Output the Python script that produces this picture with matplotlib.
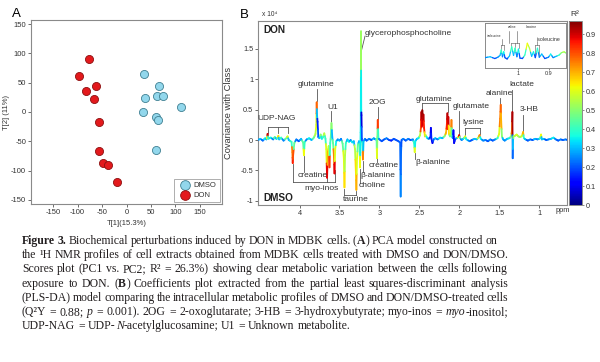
import re
import numpy as np
import matplotlib as mpl
import matplotlib.pyplot as plt
from matplotlib.collections import LineCollection

plt.rcParams['font.family'] = ['Liberation Sans', 'DejaVu Sans']
plt.rcParams['axes.unicode_minus'] = False

# === Panel A: PCA scores ===
dmso_t1 = [35, 67, 63, 74, 37, 33, 112, 60, 65, 61]
dmso_t2 = [65, 44, 28, 27, 24, 0, 8, -9, -14, -65]
don_t1 = [-76, -97, -62, -83, -67, -56, -56, -48, -37, -19]
don_t2 = [91, 62, 44, 35, 22, -17, -66, -87, -90, -120]

# === Panel B: covariance spectrum (ppm, covariance x1e4, R2) ===
spec_ppm = [4.52, 4.49, 4.46, 4.43, 4.415, 4.405, 4.40, 4.39, 4.36, 4.33,
            4.31, 4.29, 4.275, 4.265, 4.255, 4.23, 4.20, 4.165, 4.15, 4.135,
            4.10, 4.09, 4.085, 4.08, 4.065, 4.04, 4.01, 3.98, 3.955, 3.945,
            3.935, 3.91, 3.88, 3.85, 3.82, 3.80, 3.79, 3.785, 3.78, 3.774,
            3.765, 3.75, 3.735, 3.72, 3.705, 3.69, 3.675, 3.665, 3.655, 3.645,
            3.635, 3.625, 3.615, 3.607, 3.60, 3.59, 3.58, 3.57, 3.562, 3.553,
            3.54, 3.52, 3.50, 3.48, 3.46, 3.445, 3.437, 3.43, 3.42, 3.40,
            3.38, 3.36, 3.34, 3.32, 3.305, 3.295, 3.288, 3.28, 3.27, 3.255,
            3.248, 3.242, 3.237, 3.233, 3.230, 3.227, 3.224, 3.219, 3.212, 3.206,
            3.198, 3.18, 3.16, 3.13, 3.10, 3.07, 3.05, 3.035, 3.03, 3.025,
            3.02, 3.012, 3.00, 2.97, 2.94, 2.91, 2.88, 2.85, 2.82, 2.79,
            2.76, 2.74, 2.733, 2.728, 2.722, 2.70, 2.67, 2.64, 2.61, 2.58,
            2.565, 2.557, 2.55, 2.53, 2.51, 2.49, 2.48, 2.474, 2.468, 2.462,
            2.455, 2.448, 2.44, 2.43, 2.42, 2.40, 2.38, 2.36, 2.355, 2.348,
            2.335, 2.32, 2.30, 2.27, 2.24, 2.21, 2.18, 2.165, 2.155, 2.148,
            2.142, 2.136, 2.128, 2.115, 2.104, 2.097, 2.09, 2.08, 2.072, 2.064,
            2.05, 2.03, 2.01, 2.00, 1.99, 1.97, 1.95, 1.935, 1.925, 1.91,
            1.87, 1.84, 1.81, 1.78, 1.76, 1.745, 1.73, 1.70, 1.67, 1.64,
            1.61, 1.58, 1.55, 1.52, 1.50, 1.488, 1.48, 1.474, 1.465, 1.45,
            1.43, 1.40, 1.37, 1.35, 1.34, 1.334, 1.330, 1.326, 1.32, 1.30,
            1.28, 1.26, 1.24, 1.22, 1.21, 1.20, 1.19, 1.17, 1.14, 1.11,
            1.08, 1.05, 1.02, 1.00, 0.985, 0.975, 0.965, 0.94, 0.91, 0.88,
            0.85, 0.82, 0.79, 0.76, 0.73, 0.70, 0.67, 0.64]
spec_cov = [0.00, 0.02, -0.01, 0.03, 0.01, 0.04, 0.10, 0.02, 0.04, 0.01,
            0.05, 0.02, 0.03, 0.07, 0.01, 0.04, -0.01, 0.03, 0.06, 0.00,
            -0.03, -0.20, -0.38, -0.25, -0.05, 0.01, -0.02, 0.02, -0.04, -0.25,
            -0.03, 0.01, 0.03, 0.00, 0.04, 0.10, 0.25, 0.62, 0.40, 0.30,
            0.05, 0.03, 0.09, 0.02, 0.05, 0.11, 0.02, -0.15, -0.62, -0.20,
            -0.10, -0.45, -0.05, 0.08, 0.28, 0.05, -0.05, -0.25, -0.55, -0.15,
            -0.02, 0.01, -0.01, 0.02, -0.06, -0.30, -0.78, -0.25, -0.05, 0.01,
            -0.03, 0.00, -0.04, -0.02, -0.15, -0.50, -0.82, -0.30, -0.08, -0.02,
            -0.10, -0.45, -0.05, 0.30, 1.79, 0.50, 0.41, 0.02, -0.08, -0.32,
            -0.02, 0.02, -0.01, 0.02, 0.00, 0.03, 0.01, 0.02, -0.30, 0.05,
            0.33, 0.03, 0.01, -0.02, 0.01, 0.03, 0.00, -0.01, 0.02, 0.00,
            -0.02, -0.04, -0.93, -0.20, 0.00, 0.02, -0.01, 0.02, 0.00, 0.01,
            -0.05, -0.20, -0.02, 0.02, 0.03, 0.08, 0.20, 0.46, 0.22, 0.49,
            0.25, 0.42, 0.20, 0.06, 0.08, 0.03, 0.02, 0.05, 0.20, 0.02,
            -0.05, 0.01, 0.03, 0.01, 0.04, 0.03, 0.07, 0.12, 0.25, 0.44,
            0.18, 0.38, 0.10, 0.06, 0.12, 0.33, 0.06, 0.03, 0.16, -0.05,
            0.02, 0.03, 0.05, 0.08, 0.03, 0.00, 0.02, 0.04, 0.06, 0.01,
            -0.02, 0.00, 0.02, 0.01, 0.04, 0.08, 0.02, -0.01, 0.00, -0.02,
            0.01, -0.01, 0.01, 0.03, 0.10, 0.35, 0.58, 0.30, 0.06, 0.01,
            -0.01, 0.02, 0.03, 0.06, 0.15, 0.46, -0.30, 0.00, 0.06, 0.07,
            0.09, 0.06, 0.05, 0.06, 0.08, 0.13, 0.03, 0.01, -0.01, 0.01,
            0.00, 0.02, 0.01, 0.02, 0.03, 0.09, 0.01, 0.02, 0.00, 0.01,
            0.02, 0.04, 0.01, -0.01, 0.01, 0.00, 0.01, 0.00]
spec_r2 = [0.25, 0.30, 0.22, 0.35, 0.30, 0.60, 0.90, 0.40, 0.35, 0.25,
           0.45, 0.30, 0.40, 0.65, 0.30, 0.40, 0.25, 0.45, 0.60, 0.30,
           0.40, 0.75, 0.85, 0.80, 0.45, 0.25, 0.20, 0.30, 0.45, 0.62,
           0.40, 0.25, 0.35, 0.30, 0.45, 0.55, 0.60, 0.78, 0.30, 0.15,
           0.20, 0.30, 0.50, 0.35, 0.40, 0.55, 0.40, 0.60, 0.88, 0.70,
           0.55, 0.82, 0.40, 0.45, 0.50, 0.30, 0.45, 0.75, 0.88, 0.60,
           0.35, 0.25, 0.30, 0.25, 0.45, 0.60, 0.65, 0.55, 0.40, 0.30,
           0.35, 0.25, 0.35, 0.30, 0.55, 0.65, 0.70, 0.60, 0.45, 0.30,
           0.45, 0.62, 0.35, 0.35, 0.52, 0.35, 0.08, 0.20, 0.40, 0.75,
           0.30, 0.25, 0.20, 0.25, 0.20, 0.30, 0.25, 0.40, 0.60, 0.50,
           0.82, 0.40, 0.25, 0.20, 0.20, 0.25, 0.20, 0.15, 0.20, 0.20,
           0.20, 0.22, 0.25, 0.22, 0.20, 0.25, 0.20, 0.25, 0.20, 0.25,
           0.40, 0.60, 0.35, 0.30, 0.35, 0.55, 0.80, 0.90, 0.88, 0.95,
           0.90, 0.92, 0.85, 0.65, 0.55, 0.35, 0.25, 0.15, 0.10, 0.15,
           0.10, 0.20, 0.30, 0.25, 0.35, 0.30, 0.50, 0.70, 0.85, 0.92,
           0.85, 0.90, 0.65, 0.45, 0.55, 0.75, 0.45, 0.25, 0.12, 0.10,
           0.15, 0.30, 0.65, 0.88, 0.45, 0.25, 0.30, 0.45, 0.60, 0.35,
           0.25, 0.20, 0.30, 0.30, 0.55, 0.75, 0.35, 0.25, 0.25, 0.20,
           0.25, 0.20, 0.25, 0.40, 0.60, 0.75, 0.78, 0.70, 0.50, 0.30,
           0.25, 0.30, 0.35, 0.50, 0.75, 0.93, 0.22, 0.30, 0.50, 0.55,
           0.60, 0.55, 0.50, 0.55, 0.60, 0.70, 0.40, 0.30, 0.20, 0.25,
           0.20, 0.30, 0.25, 0.30, 0.40, 0.62, 0.30, 0.30, 0.20, 0.25,
           0.30, 0.35, 0.25, 0.20, 0.25, 0.20, 0.25, 0.20]

# inset: 0.84-1.11 ppm region
ins_ppm = [1.107, 1.09, 1.075, 1.065, 1.058, 1.054, 1.05, 1.046, 1.042, 1.035,
           1.027, 1.02, 1.014, 1.009, 1.003, 0.998, 0.993, 0.985, 0.977, 0.969,
           0.962, 0.955, 0.949, 0.943, 0.936, 0.93, 0.922, 0.912, 0.9, 0.893,
           0.885, 0.875, 0.865, 0.858, 0.849, 0.843]
ins_val = [0.0, 0.02, -0.02, 0.01, 0.05, 0.17, 0.02, 0.13, 0.0, -0.03,
           0.04, 0.24, 0.05, 0.21, 0.02, 0.19, -0.01, -0.02, 0.06, 0.32,
           0.21, 0.03, 0.13, 0.0, 0.21, 0.01, 0.08, -0.02, 0.01, 0.08,
           0.0, 0.03, 0.06, 0.11, 0.13, 0.10]
ins_r2 = [0.25, 0.3, 0.2, 0.25, 0.3, 0.4, 0.25, 0.35, 0.2, 0.2,
          0.3, 0.4, 0.3, 0.4, 0.25, 0.35, 0.2, 0.2, 0.4, 0.62,
          0.55, 0.3, 0.35, 0.2, 0.38, 0.25, 0.3, 0.2, 0.25, 0.35,
          0.25, 0.3, 0.4, 0.5, 0.55, 0.5]

# metabolite labels (ppm, covariance)
label_text = ['glutamine', 'U1', 'UDP-NAG', 'glycerophosphocholine', '2OG',
              'glutamine', 'glutamate', 'lysine', 'alanine', 'lactate', '3-HB',
              'creatine', 'myo-inos', 'taurine', 'choline', 'β-alanine',
              'creatine', 'β-alanine']
label_ppm = [3.79, 3.59, 4.285, 3.18, 3.02, 2.32, 1.85, 1.825, 1.50, 1.22, 1.12,
             3.84, 3.73, 3.29, 3.09, 3.014, 2.95, 2.335]
label_cov = [0.91, 0.54, 0.35, 1.75, 0.61, 0.66, 0.55, 0.29, 0.76, 0.91, 0.51,
             -0.59, -0.80, -0.98, -0.75, -0.58, -0.42, -0.37]
label_ha = ['center'] * 18
label_ha[3] = 'left'

# leader lines / brackets: ([ppm0, ppm1], [cov0, cov1])
leaders = [
    ([3.785, 3.785], [0.84, 0.64]),
    ([3.60, 3.60], [0.48, 0.30]),
    ([4.40, 4.15], [0.22, 0.22]), ([4.40, 4.40], [0.22, 0.11]),
    ([4.265, 4.265], [0.22, 0.11]), ([4.15, 4.15], [0.22, 0.11]),
    ([3.18, 3.232], [1.71, 1.43]),
    ([3.02, 3.02], [0.54, 0.35]),
    ([2.47, 2.145], [0.605, 0.605]), ([2.47, 2.47], [0.605, 0.48]),
    ([2.145, 2.145], [0.605, 0.46]),
    ([2.0, 2.0], [0.48, 0.09]),
    ([1.93, 1.745], [0.20, 0.20]), ([1.93, 1.93], [0.20, 0.09]),
    ([1.745, 1.745], [0.20, 0.10]),
    ([1.488, 1.488], [0.70, 0.58]),
    ([1.334, 1.334], [0.83, 0.47]),
    ([1.20, 1.20], [0.42, 0.14]),
    ([3.945, 3.945], [-0.27, -0.52]),
    ([4.085, 4.085], [-0.40, -0.69]), ([4.085, 3.556], [-0.69, -0.69]),
    ([3.652, 3.652], [-0.69, -0.50]), ([3.556, 3.556], [-0.69, -0.50]),
    ([3.437, 3.437], [-0.80, -0.91]), ([3.437, 3.288], [-0.91, -0.91]),
    ([3.288, 3.288], [-0.84, -0.91]),
    ([3.242, 3.242], [-0.47, -0.70]),
    ([3.206, 3.206], [-0.34, -0.52]),
    ([3.03, 3.03], [-0.10, -0.36]),
    ([2.557, 2.557], [-0.21, -0.31]),
]

# caption, {b:..} bold and {i:..} italic; right edge of each justified line (px)
caption = [
    '{b:Figure} {b:3.} Biochemical perturbations induced by DON in MDBK cells. ({b:A}) PCA model constructed on',
    'the ¹H NMR profiles of cell extracts obtained from MDBK cells treated with DMSO and DON/DMSO.',
    'Scores plot (PC1 vs. PC2; R² = 26.3%) showing clear metabolic variation between the cells following',
    'exposure to DON. ({b:B}) Coefficients plot extracted from the partial least squares-discriminant analysis',
    '(PLS-DA) model comparing the intracellular metabolic profiles of DMSO and DON/DMSO-treated cells',
    '(Q²Y = 0.88; {i:p} = 0.001). 2OG = 2-oxoglutarate; 3-HB = 3-hydroxybutyrate; myo-inos = {i:myo}-inositol;',
    'UDP-NAG = UDP-{i:N}-acetylglucosamine; U1 = Unknown metabolite.',
]
cap_y = [244, 258, 272, 287, 301, 315, 329]
cap_right = [497, 508, 508, 508, 508, 508, None]

W, H = 600, 362


def rect(l, t, r, b):
    return [l / W, 1 - b / H, (r - l) / W, (b - t) / H]


def colored_line(ax, x, y, c, norm, lw):
    # each segment split at its midpoint so each half takes its end point's colour
    x = np.asarray(x, float)
    y = np.asarray(y, float)
    c = np.asarray(c, float)
    xm = (x[:-1] + x[1:]) / 2
    ym = (y[:-1] + y[1:]) / 2
    segs, cols = [], []
    for i in range(len(x) - 1):
        segs.append([(x[i], y[i]), (xm[i], ym[i])])
        cols.append(c[i])
        segs.append([(xm[i], ym[i]), (x[i + 1], y[i + 1])])
        cols.append(c[i + 1])
    lc = LineCollection(segs, cmap='jet', norm=norm, linewidths=lw,
                        capstyle='round', zorder=3)
    lc.set_array(np.array(cols))
    ax.add_collection(lc)


frame_col = '#8a8a8a'
txt_col = '#333333'

fig = plt.figure(figsize=(6, 3.62), dpi=100)

# ---- panel A ----
axA = fig.add_axes(rect(31, 20, 222, 204))
axA.scatter(dmso_t1, dmso_t2, s=34, c='#92d7ec', edgecolors='#3f7f91',
            linewidths=0.6, label='DMSO', zorder=3)
axA.scatter(don_t1, don_t2, s=34, c='#e3191c', edgecolors='#8c1010',
            linewidths=0.6, label='DON', zorder=3)
axA.set_xlim(-195, 195)
axA.set_ylim(-157, 157)
axA.set_xticks(range(-150, 151, 50))
axA.set_yticks(range(-150, 151, 50))
axA.tick_params(labelsize=5.5, colors=txt_col, length=2, width=0.5, pad=1.5)
for sp in axA.spines.values():
    sp.set_color(frame_col)
    sp.set_linewidth(0.8)
axA.set_xlabel('T[1](15.3%)', fontsize=5.5, color=txt_col)
axA.set_ylabel('T[2] (11%)', fontsize=5.5, color=txt_col)
axA.xaxis.set_label_coords(0.5, -0.087)
axA.yaxis.set_label_coords(-0.11, 0.5)
leg = axA.legend(loc='lower right', fontsize=5.5, frameon=True, fancybox=False,
                 borderpad=0.4, handletextpad=0.2, labelspacing=0.3,
                 borderaxespad=0.3, markerscale=1.2)
leg.get_frame().set_edgecolor(frame_col)
leg.get_frame().set_linewidth(0.6)
for t in leg.get_texts():
    t.set_color(txt_col)
fig.text(12 / W, 1 - 14 / H, 'A', fontsize=9.5, va='center', ha='left')

# ---- panel B ----
norm = mpl.colors.Normalize(vmin=0, vmax=0.97)
axB = fig.add_axes(rect(258, 21, 567, 205))
for xs, ys in leaders:
    axB.plot(xs, ys, color='#555555', lw=0.6, zorder=2)
colored_line(axB, spec_ppm, spec_cov, spec_r2, norm, 1.3)
axB.set_xlim(4.52, 0.65)
axB.set_ylim(-1.07, 1.96)
axB.set_xticks([4, 3.5, 3, 2.5, 2, 1.5, 1])
axB.set_xticklabels(['4', '3.5', '3', '2.5', '2', '1.5', '1'])
axB.set_yticks([-1, -0.5, 0, 0.5, 1, 1.5])
axB.set_yticklabels(['-1', '-0.5', '0', '0.5', '1', '1.5'])
axB.tick_params(labelsize=5.3, colors=txt_col, length=2, width=0.5, pad=1.5)
for sp in axB.spines.values():
    sp.set_color(frame_col)
    sp.set_linewidth(0.8)
axB.set_ylabel('Covariance with Class', fontsize=6.7, color=txt_col)
axB.yaxis.set_label_coords(-0.081, 0.5)
for txt, xp, yp, ha in zip(label_text, label_ppm, label_cov, label_ha):
    axB.text(xp, yp, txt, fontsize=6.0, ha=ha, va='center', color=txt_col,
             zorder=4)
axB.text(0.016, 0.951, 'DON', transform=axB.transAxes, fontsize=7.2,
         fontweight='bold', va='center', ha='left', color='#222222')
axB.text(0.016, 0.04, 'DMSO', transform=axB.transAxes, fontsize=7.2,
         fontweight='bold', va='center', ha='left', color='#222222')
fig.text(563 / W, 1 - 210 / H, 'ppm', fontsize=5.3, va='center', ha='center',
         color=txt_col)
fig.text(240 / W, 1 - 15 / H, 'B', fontsize=9.5, va='center', ha='left')
fig.text(262 / W, 1 - 15 / H, 'x 10⁴', fontsize=4.8, va='center', ha='left',
         color=txt_col)

# inset
axI = fig.add_axes(rect(485, 23, 566, 68))
colored_line(axI, ins_ppm, ins_val, ins_r2, norm, 0.9)
axI.set_xlim(1.107, 0.843)
axI.set_ylim(-0.23, 0.77)
axI.set_xticks([1, 0.9])
axI.set_xticklabels(['1', '0.9'])
axI.set_yticks([])
axI.tick_params(labelsize=4, colors=txt_col, length=1.5, width=0.4, pad=0.8)
for sp in axI.spines.values():
    sp.set_color(frame_col)
    sp.set_linewidth(0.7)
ins_br = [
    ([1.056, 1.044], [0.28, 0.28]), ([1.056, 1.056], [0.28, 0.20]),
    ([1.044, 1.044], [0.28, 0.16]), ([1.05, 1.05], [0.28, 0.42]),
    ([1.022, 0.996], [0.32, 0.32]), ([1.022, 1.022], [0.32, 0.26]),
    ([1.009, 1.009], [0.32, 0.24]), ([0.996, 0.996], [0.32, 0.22]),
    ([1.03, 1.03], [0.32, 0.60]), ([1.003, 1.003], [0.32, 0.60]),
    ([0.943, 0.93], [0.28, 0.28]), ([0.943, 0.943], [0.28, 0.04]),
    ([0.93, 0.93], [0.28, 0.04]), ([0.936, 0.936], [0.28, 0.36]),
]
for xs, ys in ins_br:
    axI.plot(xs, ys, color='#555555', lw=0.4, zorder=2)
axI.text(1.078, 0.49, 'isoleucine', fontsize=2.3, ha='center', va='center',
         color=txt_col)
axI.text(1.018, 0.67, 'valine', fontsize=2.3, ha='center', va='center',
         color=txt_col)
axI.text(0.955, 0.67, 'leucine', fontsize=2.5, ha='center', va='center',
         color=txt_col)
axI.text(0.90, 0.41, 'isoleucine', fontsize=3.8, ha='center', va='center',
         color=txt_col)

# colour bar
cax = fig.add_axes(rect(569, 21, 582, 205))
sm = mpl.cm.ScalarMappable(norm=norm, cmap='jet')
cb = fig.colorbar(sm, cax=cax, ticks=[0, 0.1, 0.2, 0.3, 0.4, 0.5, 0.6, 0.7, 0.8, 0.9])
cb.set_ticklabels(['0', '0.1', '0.2', '0.3', '0.4', '0.5', '0.6', '0.7', '0.8', '0.9'])
cb.ax.tick_params(labelsize=5.2, colors=txt_col, length=1.5, width=0.4, pad=1.5)
cb.outline.set_edgecolor(frame_col)
cb.outline.set_linewidth(0.7)
fig.text(575 / W, 1 - 14 / H, 'R²', fontsize=6, va='center', ha='center',
         color=txt_col)

# ---- caption (justified word by word) ----
renderer = fig.canvas.get_renderer()
cap_fs = 8.5
cap_col = '#231f20'


def cap_text(s, style):
    return fig.text(0, 0, s, fontsize=cap_fs, family='Liberation Serif',
                    fontweight='bold' if style == 'b' else 'normal',
                    fontstyle='italic' if style == 'i' else 'normal',
                    color=cap_col, va='baseline', ha='left')


def text_w(t):
    return t.get_window_extent(renderer).width


def word_runs(word):
    out, pos = [], 0
    for m in re.finditer(r'\{([bi]):([^}]*)\}', word):
        if m.start() > pos:
            out.append((word[pos:m.start()], 'n'))
        out.append((m.group(2), m.group(1)))
        pos = m.end()
    if pos < len(word):
        out.append((word[pos:], 'n'))
    return out


probe_a = cap_text('n n', 'n')
probe_b = cap_text('nn', 'n')
space_w = text_w(probe_a) - text_w(probe_b)
probe_a.remove()
probe_b.remove()

x_left = 22
for line, yp, xr in zip(caption, cap_y, cap_right):
    words = []
    for w in line.split(' '):
        parts = [(cap_text(s, st), None) for s, st in word_runs(w)]
        widths = [text_w(t) for t, _ in parts]
        words.append((parts, widths))
    total = sum(sum(ws) for _, ws in words)
    if xr is None:
        gap = space_w
    else:
        gap = (xr - x_left - total) / (len(words) - 1)
    x = x_left
    for parts, widths in words:
        for (t, _), wd in zip(parts, widths):
            t.set_position((x / W, 1 - yp / H))
            x += wd + 0.3
        x += gap - 0.3 * len(parts)

fig.savefig('out.png', dpi=100, facecolor='white')
